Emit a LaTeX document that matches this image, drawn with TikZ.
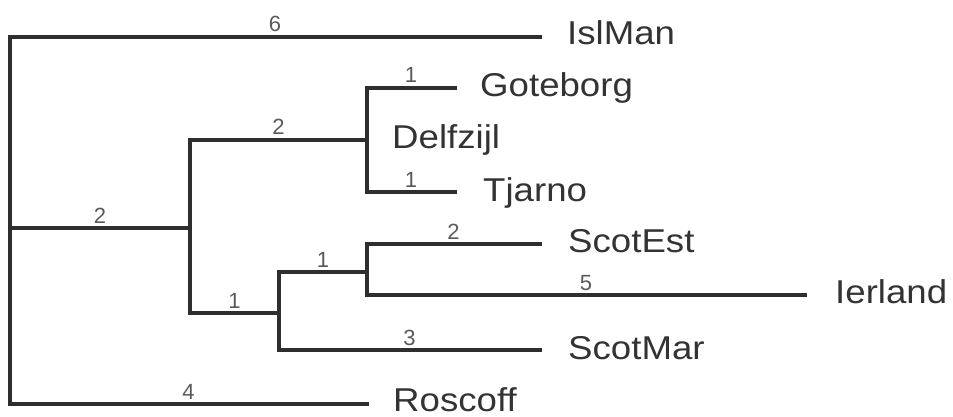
\documentclass[tikz,border=0pt]{standalone}
\usepackage{fontspec}
\setmainfont{Liberation Sans}
\newfontfamily\namefont[FakeStretch=1.11]{Liberation Sans}
\definecolor{linec}{HTML}{2E2E2E}
\definecolor{textc}{HTML}{333333}
\definecolor{numc}{HTML}{5A5A5A}
\tikzset{
  branch/.style={draw=linec, line width=3.4pt, line cap=rect, line join=miter},
  leaf/.style={anchor=base west, inner sep=0pt, text=textc, font=\namefont\fontsize{33}{36}\selectfont},
  blen/.style={pos=0.75, anchor=base, inner sep=0pt, yshift=5pt, text=numc, font=\fontsize{22}{24}\selectfont},
  blenmid/.style={blen, pos=0.5},
}
\begin{document}
\begin{tikzpicture}[x=1pt, y=-1pt]
\useasboundingbox (0,0) rectangle (953,417);
% internal nodes
\coordinate (root) at (10,228);
\coordinate (A) at (190,228);
\coordinate (D) at (367,140);
\coordinate (P) at (279,313);
\coordinate (Q) at (367,272);
% leaf line ends
\coordinate (eIsl) at (540,37);
\coordinate (eGot) at (455,88);
\coordinate (eTja) at (455,192);
\coordinate (eSE) at (540,244);
\coordinate (eIer) at (805,295);
\coordinate (eSM) at (540,350);
\coordinate (eRos) at (367,404);
% branches
\draw[branch] (root) |- node[blen] {6} (eIsl);
\draw[branch] (root) |- node[blen] {4} (eRos);
\draw[branch] (root) -- node[blenmid] {2} (A);
\draw[branch] (A) |- node[blen] {2} (D);
\draw[branch] (A) |- node[blen] {1} (P);
\draw[branch] (D) |- node[blen] {1} (eGot);
\draw[branch] (D) |- node[blen] {1} (eTja);
\draw[branch] (P) |- node[blen] {1} (Q);
\draw[branch] (P) |- node[blen] {3} (eSM);
\draw[branch] (Q) |- node[blen] {2} (eSE);
\draw[branch] (Q) |- node[blen] {5} (eIer);
% leaf names
\node[leaf] (islman) at (567,45) {IslMan};
\node[leaf] (goteborg) at (480,97) {Goteborg};
\node[leaf] (delfzijl) at (392,149) {Delfzijl};
\node[leaf] (tjarno) at (483,201) {Tjarno};
\node[leaf] (scotest) at (568,252) {ScotEst};
\node[leaf] (ierland) at (835,303) {Ierland};
\node[leaf] (scotmar) at (568,359) {ScotMar};
\node[leaf] (roscoff) at (393,411) {Roscoff};
\end{tikzpicture}
\end{document}
